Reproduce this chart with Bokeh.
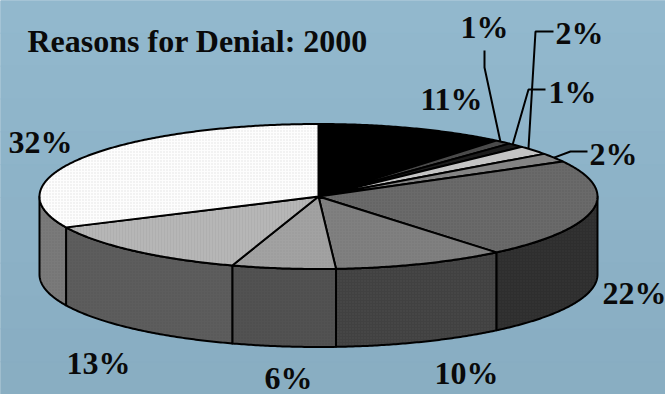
import numpy as np
from bokeh.core.properties import value
from bokeh.embed import file_html
from bokeh.models import ColumnDataSource, Range1d
from bokeh.plotting import figure
from bokeh.resources import INLINE

TITLE = "Reasons for Denial: 2000"
shares = [11, 1, 1, 2, 2, 22, 10, 6, 13, 32]
slice_labels = ["11%", "1%", "1%", "2%", "2%", "22%", "10%", "6%", "13%", "32%"]
top_colors = ["#000000", "#4a4a4a", "#1c1c1c", "#c4c4c4", "#848484",
              "#6a6a6a", "#808080", "#a2a2a2", "#b6b6b6", "#fdfdfd"]
side_colors = ["#000000", "#2a2a2a", "#101010", "#707070", "#4c4c4c",
               "#2e2e2e", "#414141", "#525252", "#5d5d5d", "#7a7a7a"]
# Stipple laid over each face: pattern, ink colour.
top_hatch = ["", "", "", "", "", "dot", "dot", "dot", "vertical_line", "dot"]
top_ink = ["#000000", "#000000", "#000000", "#000000", "#000000",
           "#505050", "#6a6a6a", "#888888", "#a8a8a8", "#c4c4c4"]
side_ink = ["#000000", "#000000", "#000000", "#000000", "#000000",
            "#404040", "#585858", "#404040", "#4c4c4c", "#606060"]
label_x = [451, 484, 572, 579, 613, 634, 466, 288, 98, 40]
label_y = [98, 26, 91, 32, 153, 292, 372, 377, 362, 141]
# Where along each small slice's arc its leader line lands.
leader_at = {1: 0.3, 2: 0.25, 3: 0.28, 4: 0.5}
leader_bends = {1: [(484, 67), (484, 50)], 2: [(528, 89), (545, 89)],
                3: [(535, 31), (553, 31)], 4: [(570, 151), (587, 151)]}

# Pie geometry in page pixels: ellipse centre, radii and wall height.
CX, CY, RX, RY, DEPTH = 318.0, 196.0, 279.0, 72.5, 78.0

BG_TOP, BG_BOTTOM = np.array([146, 184, 205]), np.array([137, 174, 194])

p = figure(width=665, height=394, output_backend="svg", toolbar_location=None,
           x_range=Range1d(0, 665), y_range=Range1d(394, 0),
           background_fill_color="#8eb3c8", border_fill_color="#8eb3c8",
           min_border=0, outline_line_color=None)
p.axis.visible = False
p.grid.visible = False

# Backdrop fading slightly darker toward the bottom of the page.
bands = 12
band_edges = np.linspace(0, 394, bands + 1)
band_colors = []
for f in np.linspace(0, 1, bands):
    r, g, b = (BG_TOP + (BG_BOTTOM - BG_TOP) * f).astype(int)
    band_colors.append(f"#{r:02x}{g:02x}{b:02x}")
p.quad(left=0, right=665, top=band_edges[:-1], bottom=band_edges[1:],
       fill_color=band_colors, line_color=band_colors, line_width=1)


def rim(a0, a1, dy=0.0):
    """Points along the ellipse between two clockwise-from-top angles (degrees)."""
    n = max(2, int(abs(a1 - a0) * 2) + 1)
    t = np.radians(np.linspace(a0, a1, n))
    return CX + RX * np.sin(t), CY - RY * np.cos(t) + dy


edges = np.concatenate([[0], np.cumsum(shares)]) * 3.6

# Outer wall, drawn only where it faces the viewer.
wx, wy, wc, wi = [], [], [], []
for a0, a1, c, ink in zip(edges[:-1], edges[1:], side_colors, side_ink):
    lo, hi = max(a0, 90), min(a1, 270)
    if hi <= lo:
        continue
    tx, ty = rim(lo, hi)
    bx, by = rim(hi, lo, DEPTH)
    wx.append(np.concatenate([tx, bx]))
    wy.append(np.concatenate([ty, by]))
    wc.append(c)
    wi.append(ink)
p.patches(wx, wy, fill_color=wc, line_color="black", line_width=2, line_join="round",
          hatch_pattern="dot", hatch_color=wi, hatch_scale=3, hatch_alpha=0.5)

# Top face of every slice.
sx, sy = [], []
for a0, a1 in zip(edges[:-1], edges[1:]):
    tx, ty = rim(a0, a1)
    sx.append(np.concatenate([[CX], tx]))
    sy.append(np.concatenate([[CY], ty]))
faces = ColumnDataSource(dict(x=sx, y=sy, fill=top_colors, hatch=top_hatch, ink=top_ink))
p.patches("x", "y", source=faces, fill_color="fill", line_color="black", line_width=2,
          line_join="round", hatch_pattern="hatch", hatch_color="ink", hatch_scale=3,
          hatch_alpha=0.5)

# Leader lines from the small slices out to their labels.
lead_x, lead_y = [], []
for i, pts in leader_bends.items():
    a = edges[i] + (edges[i + 1] - edges[i]) * leader_at[i]
    ax, ay = rim(a, a)
    lead_x.append([ax[0]] + [q[0] for q in pts])
    lead_y.append([ay[0]] + [q[1] for q in pts])
p.multi_line(lead_x, lead_y, line_color="black", line_width=2)

labels = ColumnDataSource(dict(x=label_x, y=label_y, t=slice_labels))
p.text("x", "y", text="t", source=labels, text_font=value("Liberation Serif"),
       text_font_style="bold", text_font_size="32px", text_color="#0a0a0a",
       text_align="center", text_baseline="middle")
p.text([27], [40], text=[TITLE], text_font=value("Liberation Serif"),
       text_font_style="bold", text_font_size="32px", text_color="#0a0a0a",
       text_align="left", text_baseline="middle")

open("out.html", "w").write(file_html(p, INLINE))
